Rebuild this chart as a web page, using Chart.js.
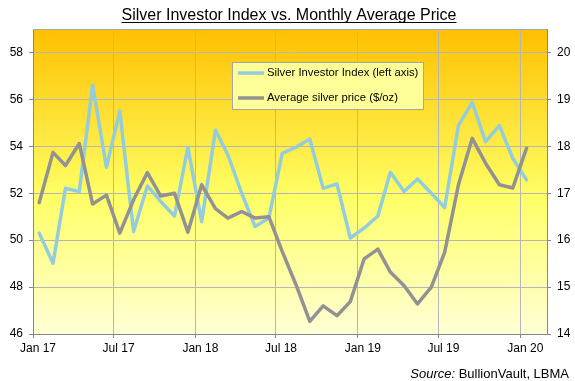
<!DOCTYPE html>
<html><head><meta charset="utf-8">
<script src="https://cdn.jsdelivr.net/npm/chart.js@4/dist/chart.umd.min.js"></script>
<style>html,body{margin:0;padding:0;background:#fff;}canvas{display:block;}</style>
</head><body>
<canvas id="c" width="575" height="381"></canvas>
<script>
const categories = ['Jan 17','Feb 17','Mar 17','Apr 17','May 17','Jun 17','Jul 17','Aug 17','Sep 17','Oct 17','Nov 17','Dec 17',
  'Jan 18','Feb 18','Mar 18','Apr 18','May 18','Jun 18','Jul 18','Aug 18','Sep 18','Oct 18','Nov 18','Dec 18',
  'Jan 19','Feb 19','Mar 19','Apr 19','May 19','Jun 19','Jul 19','Aug 19','Sep 19','Oct 19','Nov 19','Dec 19','Jan 20'];
const tickLabels = ['Jan 17','Jul 17','Jan 18','Jul 18','Jan 19','Jul 19','Jan 20'];
const investorIndex = [50.30,49.02,52.21,52.07,56.61,53.11,55.50,50.37,52.31,51.65,51.03,53.96,
  50.79,54.69,53.63,52.00,50.58,50.94,53.70,53.96,54.31,52.21,52.40,50.09,
  50.51,51.03,52.89,52.07,52.61,52.00,51.39,54.88,55.87,54.20,54.88,53.49,52.57];
const silverPrice = [16.80,17.87,17.59,18.06,16.77,16.96,16.15,16.86,17.44,16.94,17.00,16.17,
  17.18,16.67,16.47,16.61,16.47,16.50,15.76,15.05,14.27,14.60,14.39,14.69,
  15.60,15.81,15.32,15.03,14.64,15.00,15.74,17.18,18.17,17.64,17.18,17.11,17.96];
const leftTicks = [46,48,50,52,54,56,58];
const rightTicks = [14,15,16,17,18,19,20];
const seriesLabels = ['Silver Investor Index (left axis)','Average silver price ($/oz)'];
const titleText = 'Silver Investor Index vs. Monthly Average Price';

const MONTHS = ['Jan','Feb','Mar','Apr','May','Jun','Jul','Aug','Sep','Oct','Nov','Dec'];
function dayOf(label, dom){
  const p = label.split(' ');
  return (Date.UTC(2000 + (+p[1]), MONTHS.indexOf(p[0]), dom) - Date.UTC(2017,0,1)) / 86400000;
}
const FONT = '"Liberation Sans", Arial, sans-serif';
const BLUE = '#93CDDD', GRAY = '#929292', AXIS = '#868686', GRID = '#B6B6B6';

const bgPlugin = {
  id:'bg',
  beforeDraw(chart){
    const {ctx, chartArea:a} = chart;
    const g = ctx.createLinearGradient(0,a.top,0,a.bottom);
    g.addColorStop(0,'#FFC000');
    g.addColorStop(0.55,'#FFFF66');
    g.addColorStop(1,'#FFFFD6');
    ctx.save(); ctx.fillStyle = g; ctx.fillRect(a.left,a.top,a.right-a.left,a.bottom-a.top); ctx.restore();
  },
  afterDraw(chart){
    const {ctx, chartArea:a} = chart;
    ctx.save();
    // top border
    ctx.strokeStyle = '#A8A8A8'; ctx.lineWidth = 1;
    ctx.beginPath(); ctx.moveTo(a.left, a.top+0.5); ctx.lineTo(a.right, a.top+0.5); ctx.stroke();
    // title
    ctx.fillStyle = '#000'; ctx.font = '16px ' + FONT; ctx.textAlign='center'; ctx.textBaseline='alphabetic';
    ctx.fillText(titleText, 289, 20);
    const w = ctx.measureText(titleText).width;
    ctx.beginPath(); ctx.strokeStyle='#000'; ctx.moveTo(289-w/2, 22.5); ctx.lineTo(289+w/2, 22.5); ctx.stroke();
    // legend
    ctx.fillStyle = '#FFFF99'; ctx.strokeStyle = '#A6A6A6';
    ctx.fillRect(232, 62, 192, 48); ctx.strokeRect(232.5, 62.5, 191, 47);
    const cols = [BLUE, GRAY], ys = [73, 98];
    ctx.font = '11.3px ' + FONT; ctx.textAlign='left'; ctx.textBaseline='middle';
    for (let i=0;i<2;i++){
      ctx.strokeStyle = cols[i]; ctx.lineWidth = 3.5;
      ctx.beginPath(); ctx.moveTo(238, ys[i]); ctx.lineTo(264, ys[i]); ctx.stroke();
      ctx.fillStyle = '#000'; ctx.fillText(seriesLabels[i], 267, ys[i]);
    }
    // source
    ctx.textBaseline='alphabetic'; ctx.textAlign='right';
    ctx.font = '13px ' + FONT;
    const rest = ' BullionVault, LBMA';
    ctx.fillText(rest, 569, 378);
    const rw = ctx.measureText(rest).width;
    ctx.font = 'italic 13px ' + FONT;
    ctx.fillText('Source:', 569 - rw, 378);
    ctx.restore();
  }
};

new Chart(document.getElementById('c'), {
  type:'line',
  data:{
    datasets:[
      {label:seriesLabels[0], data: categories.map((c,i)=>({x:dayOf(c,15), y:investorIndex[i]})),
       yAxisID:'y', borderColor:BLUE, borderWidth:3.5, pointRadius:0, tension:0, order:1,
       borderJoinStyle:'round', borderCapStyle:'round'},
      {label:seriesLabels[1], data: categories.map((c,i)=>({x:dayOf(c,15), y:silverPrice[i]})),
       yAxisID:'y1', borderColor:GRAY, borderWidth:3.5, pointRadius:0, tension:0, order:0,
       borderJoinStyle:'round', borderCapStyle:'round'}
    ]
  },
  options:{
    responsive:false, animation:false, devicePixelRatio:1,
    layout:{padding:{top:29,left:0,right:0,bottom:0}},
    plugins:{legend:{display:false}, title:{display:false}, tooltip:{enabled:false}},
    scales:{
      x:{type:'linear', min:0, max:dayOf('Mar 20',1),
        afterBuildTicks:s=>{ s.ticks = tickLabels.map(l=>({value:dayOf(l,1)})); },
        afterFit:s=>{ s.height = 47; },
        ticks:{autoSkip:false, maxRotation:0, minRotation:0, padding:3, labelOffset:5, color:'#000',
          font:{family:FONT,size:12}, callback:(v,i)=>tickLabels[i]},
        grid:{color:GRID, lineWidth:1, tickLength:4, tickColor:AXIS},
        border:{color:AXIS, width:1}
      },
      y:{type:'linear', position:'left', min:46, max:59,
        afterBuildTicks:s=>{ s.ticks = leftTicks.map(v=>({value:v})); },
        afterFit:s=>{ s.width = 33; },
        ticks:{padding:6, color:'#000', font:{family:FONT,size:12}},
        grid:{color:GRID, lineWidth:1, tickLength:4, tickColor:AXIS},
        border:{color:AXIS, width:1}
      },
      y1:{type:'linear', position:'right', min:14, max:20.5,
        afterBuildTicks:s=>{ s.ticks = rightTicks.map(v=>({value:v})); },
        afterFit:s=>{ s.width = 28; },
        ticks:{padding:6, color:'#000', font:{family:FONT,size:12}},
        grid:{drawOnChartArea:false, tickLength:4, tickColor:AXIS, color:AXIS},
        border:{color:AXIS, width:1}
      }
    }
  },
  plugins:[bgPlugin]
});
</script>
</body></html>
